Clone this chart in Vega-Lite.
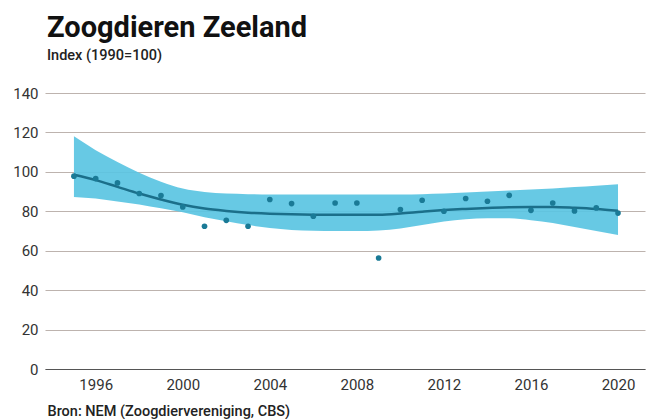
{
  "$schema": "https://vega.github.io/schema/vega-lite/v6.json",
  "autosize": "none",
  "width": 600,
  "height": 276,
  "padding": {"left": 45, "top": 93, "right": 4, "bottom": 50},
  "background": "white",
  "title": {
    "text": "Zoogdieren Zeeland",
    "subtitle": "Index (1990=100)",
    "anchor": "start",
    "frame": "group",
    "dx": 2,
    "offset": 24,
    "font": "Roboto",
    "fontSize": 29,
    "fontWeight": "bold",
    "color": "#111111",
    "subtitleFont": "Roboto",
    "subtitleFontSize": 14.5,
    "subtitleFontWeight": 500,
    "subtitleColor": "#222222",
    "subtitlePadding": 6
  },
  "config": {
    "view": {"stroke": null},
    "axis": {"labelFont": "Roboto", "titleFont": "Roboto"},
    "axisY": {
      "title": null,
      "domain": false,
      "ticks": false,
      "grid": true,
      "gridColor": "#bdb3ae",
      "gridWidth": 1.2,
      "labelFontSize": 15,
      "labelColor": "#333333",
      "labelPadding": 7,
      "labelOverlap": false
    }
  },
  "data": {
    "values": [
      {"year": 1995, "value": 97.8, "trend": 98.5, "lower": 87.3, "upper": 118},
      {"year": 1996, "value": 96.6, "trend": 95.8, "lower": 86.5, "upper": 111},
      {"year": 1997, "value": 94.4, "trend": 92.4, "lower": 85, "upper": 105},
      {"year": 1998, "value": 89.0, "trend": 89.0, "lower": 83.5, "upper": 99.5},
      {"year": 1999, "value": 88.0, "trend": 86.0, "lower": 81.5, "upper": 95},
      {"year": 2000, "value": 82.2, "trend": 83.3, "lower": 79.5, "upper": 91.5},
      {"year": 2001, "value": 72.4, "trend": 81.4, "lower": 77, "upper": 89.8},
      {"year": 2002, "value": 75.4, "trend": 80.2, "lower": 75, "upper": 89},
      {"year": 2003, "value": 72.4, "trend": 79.3, "lower": 73, "upper": 88.7},
      {"year": 2004, "value": 86.0, "trend": 78.8, "lower": 71.5, "upper": 88.5},
      {"year": 2005, "value": 83.9, "trend": 78.5, "lower": 70.5, "upper": 88.5},
      {"year": 2006, "value": 77.5, "trend": 78.3, "lower": 70.1, "upper": 88.5},
      {"year": 2007, "value": 84.2, "trend": 78.2, "lower": 70, "upper": 88.5},
      {"year": 2008, "value": 84.2, "trend": 78.2, "lower": 70, "upper": 88.5},
      {"year": 2009, "value": 56.3, "trend": 78.3, "lower": 70.3, "upper": 88.5},
      {"year": 2010, "value": 80.9, "trend": 78.9, "lower": 71.3, "upper": 88.5},
      {"year": 2011, "value": 85.6, "trend": 79.8, "lower": 73, "upper": 88.7},
      {"year": 2012, "value": 80.0, "trend": 80.6, "lower": 74.8, "upper": 89},
      {"year": 2013, "value": 86.5, "trend": 81.2, "lower": 76, "upper": 89.5},
      {"year": 2014, "value": 85.1, "trend": 81.7, "lower": 76.5, "upper": 90},
      {"year": 2015, "value": 88.1, "trend": 82.1, "lower": 76.5, "upper": 90.5},
      {"year": 2016, "value": 80.5, "trend": 82.2, "lower": 75.5, "upper": 91},
      {"year": 2017, "value": 84.2, "trend": 82.2, "lower": 74, "upper": 91.5},
      {"year": 2018, "value": 80.2, "trend": 81.8, "lower": 72, "upper": 92.3},
      {"year": 2019, "value": 81.7, "trend": 81.2, "lower": 70, "upper": 93},
      {"year": 2020, "value": 79.1, "trend": 80.3, "lower": 68, "upper": 93.7}
    ]
  },
  "encoding": {
    "x": {
      "field": "year",
      "type": "quantitative",
      "scale": {"domain": [1993.67, 2021.24], "nice": false, "zero": false},
      "axis": {
        "values": [1996, 2000, 2004, 2008, 2012, 2016, 2020],
        "format": "d",
        "grid": false,
        "ticks": false,
        "domain": true,
        "domainColor": "#555555",
        "domainWidth": 1.2,
        "labelFontSize": 15,
        "labelColor": "#333333",
        "labelPadding": 8,
        "labelOverlap": false,
        "title": "Bron: NEM (Zoogdiervereniging, CBS)",
        "titleFontSize": 14.5,
        "titleFontWeight": 500,
        "titleColor": "#222222",
        "titleAnchor": "start",
        "titleAlign": "left",
        "titleBaseline": "alphabetic",
        "titleX": 2,
        "titleY": 46
      }
    }
  },
  "layer": [
    {
      "mark": {"type": "area", "interpolate": "monotone", "color": "#5ac4e2", "opacity": 0.92},
      "encoding": {
        "y": {
          "field": "lower",
          "type": "quantitative",
          "scale": {"domain": [0, 140], "nice": false},
          "axis": {"values": [0, 20, 40, 60, 80, 100, 120, 140], "title": null}
        },
        "y2": {"field": "upper"}
      }
    },
    {
      "mark": {"type": "line", "interpolate": "monotone", "color": "#1b6f8a", "strokeWidth": 2.5},
      "encoding": {
        "y": {
          "field": "trend",
          "type": "quantitative",
          "scale": {"domain": [0, 140], "nice": false},
          "axis": {"values": [0, 20, 40, 60, 80, 100, 120, 140], "title": null}
        }
      }
    },
    {
      "mark": {"type": "point", "filled": true, "color": "#1a7a96", "size": 32, "opacity": 1},
      "encoding": {
        "y": {
          "field": "value",
          "type": "quantitative",
          "scale": {"domain": [0, 140], "nice": false},
          "axis": {"values": [0, 20, 40, 60, 80, 100, 120, 140], "title": null}
        }
      }
    }
  ]
}
